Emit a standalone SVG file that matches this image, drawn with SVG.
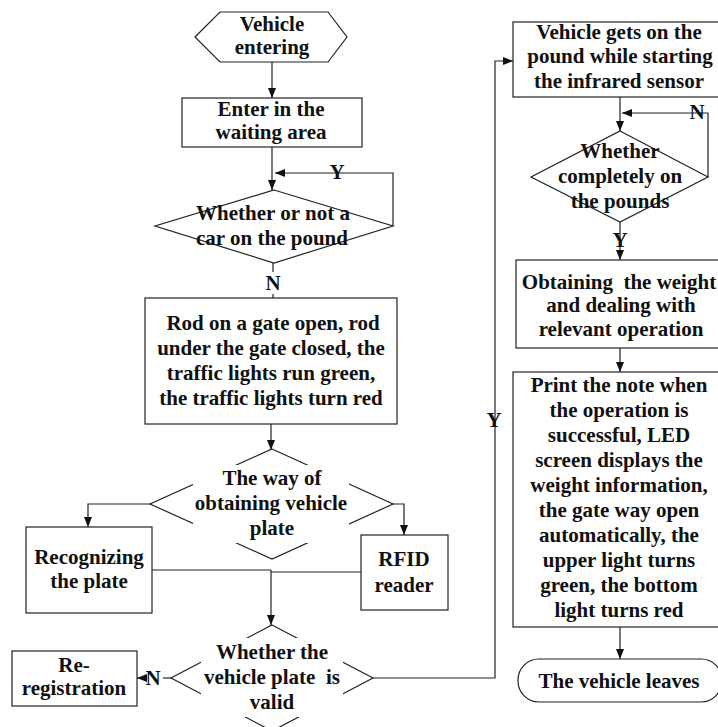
<svg xmlns="http://www.w3.org/2000/svg" width="718" height="727" viewBox="0 0 718 727">
  <style>
    .shape { fill: #fff; stroke: #222; stroke-width: 1.2; }
    .line { fill: none; stroke: #222; stroke-width: 1.2; }
    .arrow { marker-end: url(#head); }
    .mask { fill: #fff; stroke: none; }
    text { font-family: "Liberation Serif", "Times New Roman", serif; font-weight: bold; font-size: 21px; fill: #111; text-anchor: middle; }
  </style>
  <defs>
    <marker id="head" viewBox="0 0 10 8" refX="10" refY="4" markerWidth="10" markerHeight="8" markerUnits="userSpaceOnUse" orient="auto">
      <path d="M0,0 L10,4 L0,8 Z" fill="#111"/>
    </marker>
  </defs>
  <rect width="718" height="727" fill="#fff"/>

  <g id="connectors">
    <path class="line arrow" d="M272,62 V98"/>
    <path class="line arrow" d="M272,147 V190"/>
    <path class="line arrow" d="M393,226 V173 H275"/>
    <path class="line" d="M273,263 V272"/>
    <path class="line" d="M273,294 V299"/>
    <path class="line arrow" d="M271,424 V450"/>
    <path class="line arrow" d="M150,504 H88 V527"/>
    <path class="line arrow" d="M393,504 H404 V535"/>
    <path class="line" d="M152,570 H271"/>
    <path class="line" d="M361,572 H271"/>
    <path class="line arrow" d="M271,570 V625"/>
    <path class="line" d="M171,678 H163"/>
    <path class="line arrow" d="M143,678 H137"/>
    <path class="line arrow" d="M373,678 H495 V61 H513"/>
    <path class="line arrow" d="M620,97 V131"/>
    <path class="line arrow" d="M708,177 V113 H622"/>
    <path class="line arrow" d="M620,222 V260"/>
    <path class="line arrow" d="M620,348 V372"/>
    <path class="line arrow" d="M620,627 V659"/>
    <text x="337" y="179">Y</text>
    <text x="273" y="290">N</text>
    <text x="153" y="685">N</text>
    <text x="494" y="427">Y</text>
    <text x="697" y="119">N</text>
    <text x="620" y="247">Y</text>
  </g>

  <g id="vehicle-entering">
    <polygon class="shape" points="195,37 220,12 328,12 347,37 328,62 220,62"/>
    <text x="272" y="31">Vehicle</text>
    <text x="272" y="54">entering</text>
  </g>

  <g id="waiting-area">
    <rect class="shape" x="182" y="98" width="180" height="49"/>
    <text x="271" y="116">Enter in the</text>
    <text x="271" y="139">waiting area</text>
  </g>

  <g id="car-on-pound">
    <polygon class="shape" points="274,190 393,226 274,263 155,226"/>
    <text x="273" y="220">Whether or not a</text>
    <text x="272" y="245">car on the pound</text>
  </g>

  <g id="gate-and-lights">
    <rect class="shape" x="145" y="298" width="252" height="126"/>
    <text x="273" y="330">Rod on a gate open, rod</text>
    <text x="271" y="355">under the gate closed, the</text>
    <text x="271" y="380">traffic lights run green,</text>
    <text x="271" y="405">the traffic lights turn red</text>
  </g>

  <g id="plate-method">
    <polygon class="shape" points="272,449 393,504 272,559 150,504"/>
    <rect class="mask" x="193" y="465" width="156" height="78"/>
    <text x="272" y="485">The way of</text>
    <text x="271" y="510">obtaining vehicle</text>
    <text x="272" y="535">plate</text>
  </g>

  <g id="recognizing-plate">
    <rect class="shape" x="26" y="527" width="126" height="86"/>
    <text x="89" y="564">Recognizing</text>
    <text x="89" y="588">the plate</text>
  </g>

  <g id="rfid-reader">
    <rect class="shape" x="361" y="535" width="87" height="75"/>
    <text x="404" y="566">RFID</text>
    <text x="404" y="592">reader</text>
  </g>

  <g id="plate-valid">
    <polygon class="shape" points="272,625 373,678 272,731 171,678"/>
    <rect class="mask" x="201" y="638" width="142" height="79"/>
    <text x="272" y="659">Whether the</text>
    <text x="272" y="684">vehicle plate&#160; is</text>
    <text x="272" y="709">valid</text>
  </g>

  <g id="re-registration">
    <rect class="shape" x="12" y="651" width="125" height="55"/>
    <text x="74" y="672">Re-</text>
    <text x="74" y="695">registration</text>
  </g>

  <g id="on-pound">
    <rect class="shape" x="513" y="22" width="214" height="75"/>
    <text x="619" y="39">Vehicle gets on the</text>
    <text x="620" y="63">pound while starting</text>
    <text x="619" y="88">the infrared sensor</text>
  </g>

  <g id="completely-on">
    <polygon class="shape" points="620,131 708,177 620,222 531,177"/>
    <text x="620" y="158">Whether</text>
    <text x="620" y="183">completely on</text>
    <text x="620" y="208">the pounds</text>
  </g>

  <g id="weighing">
    <rect class="shape" x="516" y="260" width="208" height="88"/>
    <text x="619" y="289">Obtaining&#160; the weight</text>
    <text x="621" y="312">and dealing with</text>
    <text x="621" y="336">relevant operation</text>
  </g>

  <g id="print-note">
    <rect class="shape" x="513" y="372" width="214" height="255"/>
    <text x="619" y="392">Print the note when</text>
    <text x="619" y="417">the operation is</text>
    <text x="619" y="442">successful, LED</text>
    <text x="619" y="467">screen displays the</text>
    <text x="619" y="492">weight information,</text>
    <text x="619" y="517">the gate way open</text>
    <text x="619" y="542">automatically, the</text>
    <text x="619" y="567">upper light turns</text>
    <text x="619" y="592">green, the bottom</text>
    <text x="619" y="617">light turns red</text>
  </g>

  <g id="vehicle-leaves">
    <rect class="shape" x="518" y="659" width="204" height="43" rx="21" ry="21"/>
    <text x="619" y="688">The vehicle leaves</text>
  </g>
</svg>
